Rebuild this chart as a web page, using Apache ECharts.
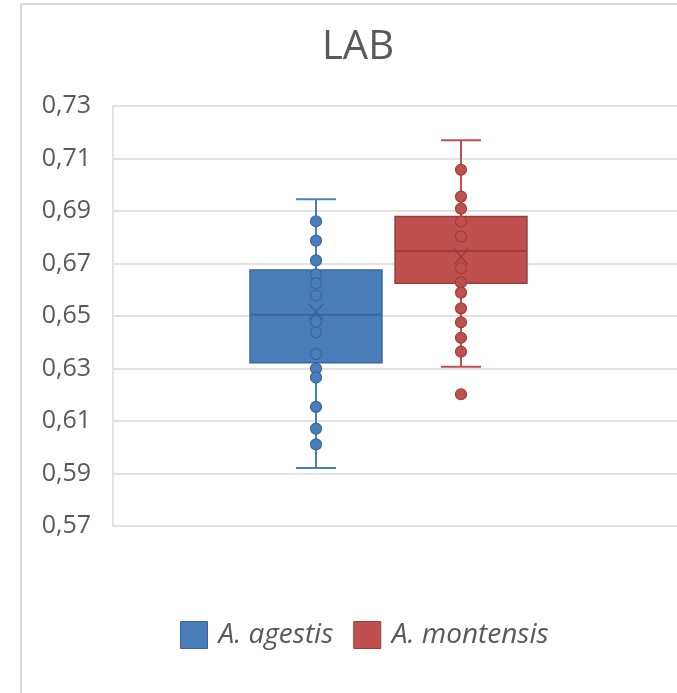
<!DOCTYPE html>
<html>
<head>
<meta charset="utf-8">
<script src="https://cdn.jsdelivr.net/npm/echarts@6/dist/echarts.min.js"></script>
<style>
html,body{margin:0;padding:0;background:#fff;overflow:hidden;}
#chart{width:677px;height:693px;}
</style>
</head>
<body>
<div id="chart"></div>
<script>
// ---- data ----
const title = 'LAB';
const categories = ['A. agestis', 'A. montensis'];
const yTicks = [0.57, 0.59, 0.61, 0.63, 0.65, 0.67, 0.69, 0.71, 0.73];
// [min whisker, Q1, median, Q3, max whisker, mean]
const agestisStats = [0.5921, 0.6322, 0.6505, 0.6675, 0.6945, 0.6515];
const montensisStats = [0.6307, 0.6625, 0.6748, 0.6879, 0.7170, 0.6726];
const agestisPoints = [0.6861, 0.6787, 0.6712, 0.6659, 0.6625, 0.6578, 0.6479, 0.6438, 0.6355, 0.6300, 0.6266, 0.6154, 0.6071, 0.6011];
const montensisPoints = [0.7057, 0.6955, 0.6909, 0.6860, 0.6803, 0.6682, 0.6628, 0.6589, 0.6529, 0.6476, 0.6417, 0.6364, 0.6202];

const colors = ['#4a7ebb', '#c0504d'];
const darks = ['#3a669c', '#9e3d3a'];

const boxData = [
  [0].concat(agestisStats),
  [1].concat(montensisStats)
];
function pts(idx, arr) { return arr.map(v => [idx, v]); }

const chart = echarts.init(document.getElementById('chart'), null, {renderer: 'canvas', width: 677, height: 693});

function renderBox(params, api) {
  const ci = api.value(0);
  const mn = api.value(1), q1 = api.value(2), md = api.value(3), q3 = api.value(4), mx = api.value(5);
  const c = colors[ci], d = darks[ci];
  const bw = api.size([1, 0])[0] * 0.91;
  const half = bw / 2;
  const capHalf = 20;
  const pMn = api.coord([ci, mn]), pQ1 = api.coord([ci, q1]), pMd = api.coord([ci, md]);
  const pQ3 = api.coord([ci, q3]), pMx = api.coord([ci, mx]);
  const x = pMd[0];
  const lineStyle = {stroke: c, lineWidth: 2};
  return {
    type: 'group',
    children: [
      {type: 'line', shape: {x1: x, y1: pQ3[1], x2: x, y2: pMx[1]}, style: lineStyle},
      {type: 'line', shape: {x1: x, y1: pQ1[1], x2: x, y2: pMn[1]}, style: lineStyle},
      {type: 'line', shape: {x1: x - capHalf, y1: pMx[1], x2: x + capHalf, y2: pMx[1]}, style: lineStyle},
      {type: 'line', shape: {x1: x - capHalf, y1: pMn[1], x2: x + capHalf, y2: pMn[1]}, style: lineStyle},
      {type: 'rect', shape: {x: x - half, y: pQ3[1], width: bw, height: pQ1[1] - pQ3[1]},
        style: {fill: c, stroke: d, lineWidth: 1.5}, z2: 1},
      {type: 'line', shape: {x1: x - half, y1: pMd[1], x2: x + half, y2: pMd[1]},
        style: {stroke: d, lineWidth: 2}, z2: 2}
    ]
  };
}

function renderMean(params, api) {
  const ci = api.value(0);
  const p = api.coord([ci, api.value(6)]);
  const d = darks[ci];
  const w = 7, h = 8;
  return {
    type: 'group',
    z2: 20,
    children: [
      {type: 'line', shape: {x1: p[0] - w, y1: p[1] - h, x2: p[0] + w, y2: p[1] + h}, style: {stroke: d, lineWidth: 1.5}},
      {type: 'line', shape: {x1: p[0] - w, y1: p[1] + h, x2: p[0] + w, y2: p[1] - h}, style: {stroke: d, lineWidth: 1.5}}
    ]
  };
}

const textColor = '#595959';
const gridColor = '#d9d9d9';

const option = {
  animation: false,
  backgroundColor: '#ffffff',
  title: {
    text: title,
    left: 358, top: 28, padding: 0,
    textAlign: 'center',
    textStyle: {fontFamily: 'Open Sans', fontSize: 40, fontWeight: 'normal', color: textColor}
  },
  legend: {
    data: categories.map((n, i) => ({name: n, icon: 'rect', itemStyle: {color: colors[i], borderColor: darks[i], borderWidth: 1}})),
    left: 180, top: 621, padding: 0,
    itemWidth: 27, itemHeight: 27, itemGap: 20,
    textStyle: {fontFamily: 'Open Sans', fontSize: 28, fontStyle: 'italic', color: textColor, padding: [0, 0, 0, 6]}
  },
  graphic: [
    {type: 'line', shape: {x1: 21, y1: 4, x2: 700, y2: 4}, style: {stroke: gridColor, lineWidth: 2}},
    {type: 'line', shape: {x1: 21, y1: 4, x2: 21, y2: 693}, style: {stroke: gridColor, lineWidth: 2}}
  ],
  grid: [
    {left: 113, right: -30, top: 106, height: 420},
    {left: 243.5, width: 290, top: 106, height: 420}
  ],
  xAxis: [
    {type: 'category', gridIndex: 0, data: [''], show: true,
      axisLine: {show: false}, axisTick: {show: false}, axisLabel: {show: false},
      splitLine: {show: false}},
    {type: 'category', gridIndex: 1, data: categories, boundaryGap: true, show: false}
  ],
  yAxis: [
    {type: 'value', gridIndex: 0, min: 0.57, max: 0.73, interval: 0.02,
      axisLine: {show: true, lineStyle: {color: gridColor, width: 1.5}},
      axisTick: {show: false},
      axisLabel: {margin: 22, color: textColor, fontFamily: 'Open Sans', fontSize: 25,
        formatter: v => v.toFixed(2).replace('.', ',')},
      splitLine: {show: true, lineStyle: {color: gridColor, width: 1.5}}},
    {type: 'value', gridIndex: 1, min: 0.57, max: 0.73, interval: 0.02, show: false,
      splitLine: {show: false}}
  ],
  series: [
    {name: categories[0], type: 'custom', xAxisIndex: 1, yAxisIndex: 1, itemStyle: {color: colors[0]},
      renderItem: renderBox, data: [boxData[0]], z: 2},
    {name: categories[1], type: 'custom', xAxisIndex: 1, yAxisIndex: 1, itemStyle: {color: colors[1]},
      renderItem: renderBox, data: [boxData[1]], z: 2},
    {name: 'pts0', type: 'scatter', xAxisIndex: 1, yAxisIndex: 1, symbol: 'circle', symbolSize: 11,
      itemStyle: {color: colors[0], borderColor: darks[0], borderWidth: 1.2, opacity: 1},
      data: pts(0, agestisPoints), z: 3},
    {name: 'pts1', type: 'scatter', xAxisIndex: 1, yAxisIndex: 1, symbol: 'circle', symbolSize: 11,
      itemStyle: {color: colors[1], borderColor: darks[1], borderWidth: 1.2, opacity: 1},
      data: pts(1, montensisPoints), z: 3},
    {name: 'mean', type: 'custom', xAxisIndex: 1, yAxisIndex: 1, renderItem: renderMean,
      data: boxData, z: 4}
  ]
};
chart.setOption(option);
</script>
</body>
</html>
